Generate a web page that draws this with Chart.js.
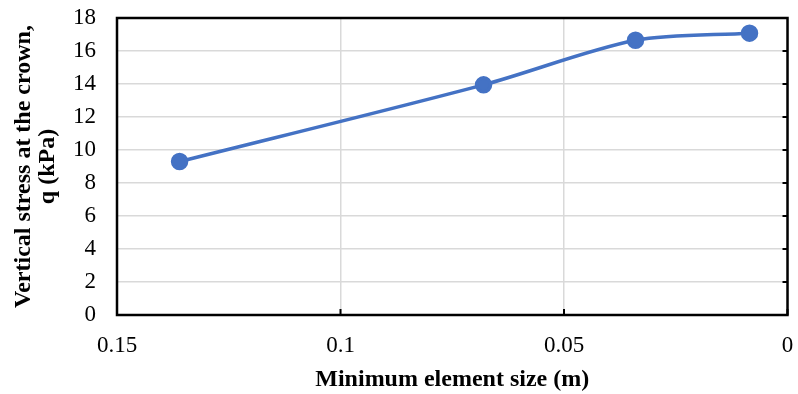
<!DOCTYPE html>
<html>
<head>
<meta charset="utf-8">
<script src="https://cdn.jsdelivr.net/npm/chart.js@4/dist/chart.umd.min.js"></script>
<style>
  html, body { margin: 0; padding: 0; background: #fff; }
</style>
</head>
<body>
<canvas id="stressChart" width="798" height="394"></canvas>
<script>
// Data
const elementSize = [0.136, 0.068, 0.034, 0.0085];
const crownStress = [9.3, 13.95, 16.65, 17.08];
const xTicks = [0.15, 0.1, 0.05, 0];

const ctx = document.getElementById('stressChart').getContext('2d');
const serif = "'Liberation Serif', 'Times New Roman', serif";

// Black frame around the plot with small inward tick marks (Excel style)
const frameBox = {
  id: 'frameBox',
  afterDatasetsDraw(chart) {
    const { ctx, chartArea: a, scales } = chart;
    ctx.save();
    ctx.strokeStyle = '#000';
    ctx.lineWidth = 2.5;
    ctx.strokeRect(a.left, a.top, a.right - a.left, a.bottom - a.top);
    ctx.lineWidth = 2;
    ctx.beginPath();
    scales.y.ticks.forEach(t => {
      const py = scales.y.getPixelForValue(t.value);
      ctx.moveTo(a.right, py); ctx.lineTo(a.right - 5, py);
    });
    scales.x.ticks.forEach(t => {
      const px = scales.x.getPixelForValue(t.value);
      ctx.moveTo(px, a.bottom); ctx.lineTo(px, a.bottom - 6);
    });
    ctx.stroke();
    ctx.restore();
  }
};

new Chart(ctx, {
  type: 'line',
  data: {
    datasets: [{
      data: elementSize.map((x, i) => ({ x: x, y: crownStress[i] })),
      borderColor: '#4472C4',
      backgroundColor: '#4472C4',
      borderWidth: 3.5,
      pointRadius: 7,
      pointHoverRadius: 7,
      tension: 0.3,
      fill: false
    }]
  },
  options: {
    responsive: false,
    animation: false,
    layout: { padding: { left: 12, right: 10, top: 18, bottom: 0 } },
    plugins: { legend: { display: false }, tooltip: { enabled: false } },
    scales: {
      x: {
        type: 'linear',
        reverse: true,
        min: 0,
        max: 0.15,
        afterBuildTicks: axis => { axis.ticks = xTicks.map(v => ({ value: v })); },
        afterFit: axis => {
          axis.height = 79;
          axis.paddingLeft = 0;
          axis.paddingRight = 0;
        },
        ticks: {
          color: '#000',
          font: { family: serif, size: 23 },
          padding: 17,
          maxRotation: 0,
          callback: v => String(v)
        },
        grid: { color: '#d9d9d9', lineWidth: 1.5, drawTicks: false },
        border: { display: false },
        title: {
          display: true,
          text: 'Minimum element size (m)',
          color: '#000',
          font: { family: serif, size: 24, weight: 'bold' },
          padding: { top: 4, bottom: 0 }
        }
      },
      y: {
        min: 0,
        max: 18,
        afterFit: axis => {
          axis.width = 105;
          axis.paddingTop = 8;
          axis.paddingBottom = 8;
        },
        ticks: {
          stepSize: 2,
          autoSkip: false,
          color: '#000',
          font: { family: serif, size: 23 },
          padding: 21
        },
        grid: { color: '#d9d9d9', lineWidth: 1.5, drawTicks: false },
        border: { display: false },
        title: {
          display: true,
          text: ['Vertical stress at the crown,', 'q (kPa)'],
          color: '#000',
          font: { family: serif, size: 24, weight: 'bold', lineHeight: 1.0 },
          padding: { top: 0, bottom: 0 }
        }
      }
    }
  },
  plugins: [frameBox]
});
</script>
</body>
</html>
